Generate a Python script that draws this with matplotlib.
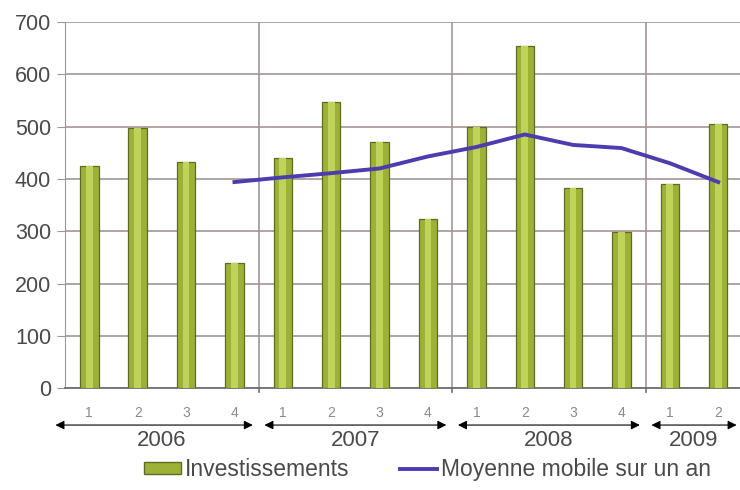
import matplotlib
matplotlib.use("Agg")
import matplotlib.pyplot as plt
import matplotlib.transforms as mtransforms
from matplotlib.patches import Patch
from matplotlib.lines import Line2D

plt.rcParams['font.family'] = ['Liberation Sans', 'DejaVu Sans']

years = ["2006", "2007", "2008", "2009"]
quarters_per_year = [4, 4, 4, 2]
quarter_labels = ["1", "2", "3", "4", "1", "2", "3", "4", "1", "2", "3", "4", "1", "2"]
investissements = [425, 497, 433, 240, 440, 548, 470, 323, 500, 655, 383, 298, 390, 505]
# moving average starts at the 4th quarter of 2006
moyenne_start = 3
moyenne = [394, 403, 411, 420, 443, 461, 485, 465, 459, 430, 394]

grey = "#a39595"
text_col = "#4a4a4a"

fig = plt.figure(figsize=(7.4, 4.9), dpi=100)
ax = fig.add_axes([0.088, 0.208, 0.912, 0.747])

x = list(range(len(investissements)))
ax.bar(x, investissements, width=0.38, color="#9cb236", edgecolor="#5f6b22",
       linewidth=0.9, zorder=3)
ax.bar(x, investissements, width=0.14, color="#bfd35a", linewidth=0, zorder=4)

xm = list(range(moyenne_start, moyenne_start + len(moyenne)))
ax.plot(xm, moyenne, color="#4b3cb0", linewidth=2.8, zorder=5)

ax.set_ylim(0, 700)
ax.set_xlim(-0.5, 13.45)
ax.set_yticks(range(0, 701, 100))
ax.tick_params(axis="y", labelsize=15.5, labelcolor=text_col, color=grey,
               length=6, pad=4)
ax.set_xticks([])
ax.yaxis.grid(True, color=grey, linewidth=1.2, zorder=0)
ax.set_axisbelow(True)
for s in ["top", "right"]:
    ax.spines[s].set_visible(False)
ax.spines["left"].set_color(grey)
ax.spines["bottom"].set_color("#707070")
ax.spines["bottom"].set_linewidth(1.3)

# year boundaries
bounds = []
pos = -0.5
for n in quarters_per_year:
    bounds.append((pos, pos + n))
    pos += n
for b in [b[1] for b in bounds[:-1]]:
    ax.axvline(b, color=grey, linewidth=1.2, zorder=1)
    ax.plot([b, b], [0, -0.012], transform=ax.get_xaxis_transform(),
            color="#707070", linewidth=1.2, clip_on=False)

trans = mtransforms.blended_transform_factory(ax.transData, ax.transAxes)
for xi, lab in zip(x, quarter_labels):
    ax.text(xi, -0.068, lab, transform=trans, ha="center", va="center",
            fontsize=10, color="#8a8a8a")

for i, ((a, b), yr) in enumerate(zip(bounds, years)):
    left = a - 0.2 if i == 0 else a + 0.12
    right = b - 0.12
    ax.annotate("", xy=(right, -0.101), xytext=(left, -0.101),
                xycoords=trans, textcoords=trans,
                arrowprops=dict(arrowstyle="<|-|>", color="black", lw=0.8,
                                mutation_scale=13, shrinkA=0, shrinkB=0))
    ax.text((a + b) / 2, -0.144, yr, transform=trans, ha="center", va="center",
            fontsize=16, color=text_col)

handles = [Patch(facecolor="#9cb236", edgecolor="#5f6b22"),
           Line2D([0], [0], color="#4b3cb0", linewidth=2.8)]
fig.legend(handles, ["Investissements", "Moyenne mobile sur un an"],
           loc="center", bbox_to_anchor=(0.578, 0.041), ncol=2, frameon=False,
           fontsize=16.5, handlelength=1.6, handleheight=0.45,
           handletextpad=0.2, columnspacing=2.2, labelcolor=text_col)

fig.savefig("out.png", dpi=100)
